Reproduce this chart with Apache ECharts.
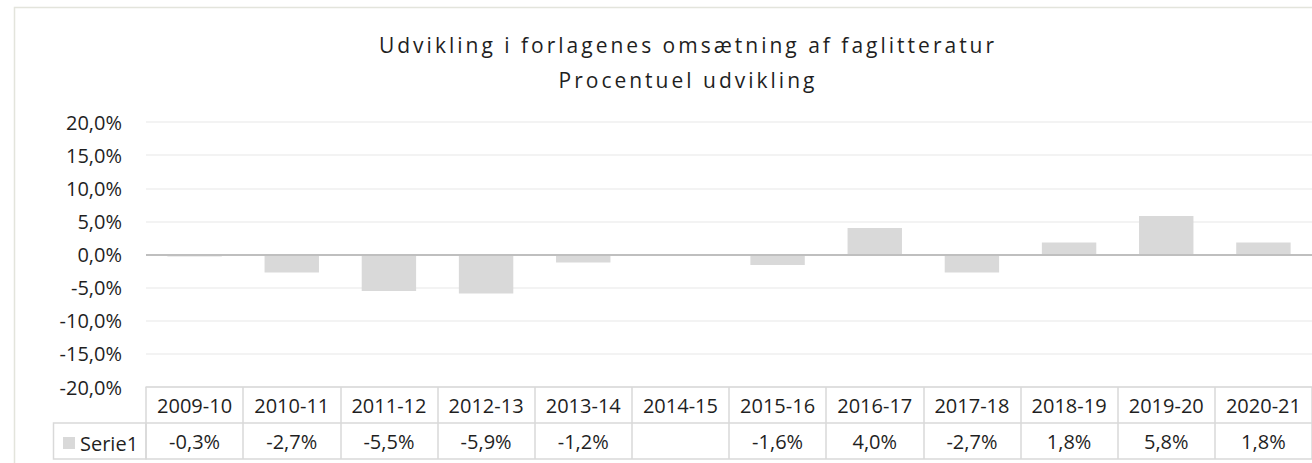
<!DOCTYPE html>
<html>
<head>
<meta charset="utf-8">
<script src="https://cdn.jsdelivr.net/npm/echarts@6/dist/echarts.min.js"></script>
<style>
  html, body { margin: 0; padding: 0; background: #fff; }
  #chart { width: 1312px; height: 463px; }
</style>
</head>
<body>
<div id="chart"></div>
<script>
// data (procent)
var years = ["2009-10", "2010-11", "2011-12", "2012-13", "2013-14", "2014-15",
  "2015-16", "2016-17", "2017-18", "2018-19", "2019-20", "2020-21"];
var serie1 = [-0.3, -2.7, -5.5, -5.9, -1.2, null, -1.6, 4.0, -2.7, 1.8, 5.8, 1.8];
var seriesName = "Serie1";
var titleLines = ["Udvikling i forlagenes omsætning af faglitteratur", "Procentuel udvikling"];

var FONT = "Open Sans";
var TXT = "#1f1f1f";
var LINE = "#d9d9d9";

function pct(v) {
  if (v === null || v === undefined) return "";
  return v.toFixed(1).replace(".", ",") + "%";
}
var tableRow = serie1.map(pct);

var chart = echarts.init(document.getElementById("chart"), null, { renderer: "svg" });
chart.setOption({
  animation: false,
  textStyle: { fontFamily: FONT },
  title: {
    text: titleLines.join("\n"),
    left: 683,
    top: 22,
    textAlign: "center",
    textStyle: {
      fontFamily: FONT,
      fontSize: 21,
      fontWeight: "normal",
      color: TXT,
      lineHeight: 35,
    },
  },
  legend: {
    data: [seriesName],
    left: 58,
    top: 428,
    icon: "rect",
    itemWidth: 12,
    itemHeight: 12,
    textStyle: { fontFamily: FONT, fontSize: 20, color: TXT },
  },
  grid: { left: 146, right: 0, top: 122, bottom: 76 },
  xAxis: [
    {
      type: "category",
      data: years,
      position: "bottom",
      axisLine: { onZero: false, lineStyle: { color: LINE, width: 1.5 } },
      axisTick: { show: true, interval: 0, length: 72, lineStyle: { color: LINE, width: 1.5 } },
      axisLabel: { interval: 0, margin: 18, verticalAlign: "middle", fontSize: 20, color: TXT, fontFamily: FONT },
    },
    {
      type: "category",
      data: tableRow,
      position: "bottom",
      offset: 36,
      axisLine: { onZero: false, lineStyle: { color: LINE, width: 1.5 } },
      axisTick: { show: false },
      axisLabel: { interval: 0, margin: 18, verticalAlign: "middle", fontSize: 20, color: TXT, fontFamily: FONT },
    },
    {
      type: "category",
      data: years,
      position: "bottom",
      offset: 72,
      axisLine: { onZero: false, lineStyle: { color: LINE, width: 1.5 } },
      axisTick: { show: false },
      axisLabel: { show: false },
    },
  ],
  yAxis: {
    type: "value",
    min: -20,
    max: 20,
    interval: 5,
    axisLine: { show: false },
    axisTick: { show: false },
    splitLine: { lineStyle: { color: "#efefef", width: 1.5 } },
    axisLabel: {
      margin: 24,
      fontSize: 20,
      color: TXT,
      fontFamily: FONT,
      formatter: function (v) { return pct(v); },
    },
  },
  graphic: [
    // chart area border
    {
      type: "rect",
      shape: { x: 14.5, y: 7.5, width: 1320, height: 480 },
      style: { fill: null, stroke: "#e3e4dc", lineWidth: 1.5 },
      silent: true,
    },
    // legend cell of the data table
    {
      type: "rect",
      shape: { x: 53.5, y: 423, width: 92.5, height: 36 },
      style: { fill: null, stroke: LINE, lineWidth: 1.5 },
      silent: true,
    },
  ],
  series: [
    {
      name: seriesName,
      type: "bar",
      data: serie1,
      barCategoryGap: "44%",
      itemStyle: { color: "#d9d9d9" },
      markLine: {
        silent: true,
        symbol: "none",
        label: { show: false },
        lineStyle: { color: "#bfbfbf", width: 2, type: "solid" },
        data: [{ yAxis: 0 }],
      },
    },
  ],
});

// Excel title is drawn with expanded character spacing
function spaceTitle() {
  var texts = document.querySelectorAll("#chart svg text");
  texts.forEach(function (t) {
    if (titleLines.indexOf(t.textContent) >= 0) {
      t.style.letterSpacing = "3px";
    }
  });
}
spaceTitle();
chart.on("finished", spaceTitle);
</script>
</body>
</html>
